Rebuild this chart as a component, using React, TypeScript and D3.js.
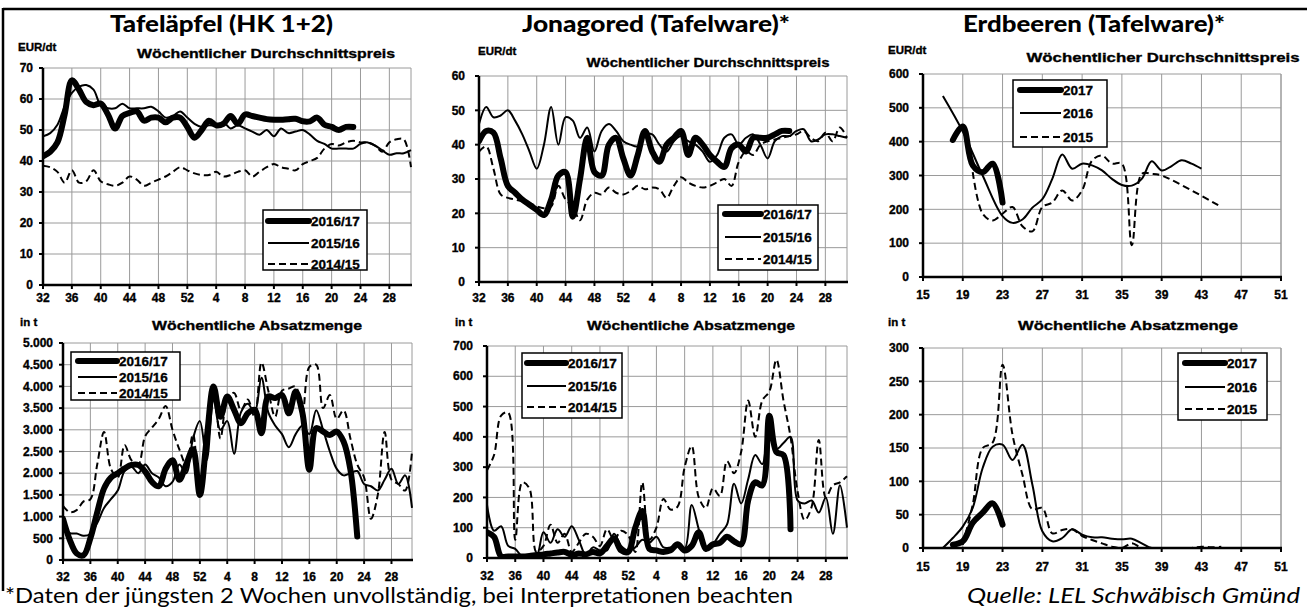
import React from 'react';
import * as d3 from 'd3';

const W = 1307;
const H = 610;

// Achsenbeschriftungen
const seasonWeekLabels = ['32', '36', '40', '44', '48', '52', '4', '8', '12', '16', '20', '24', '28'];
const berryWeekTicks = [15, 19, 23, 27, 31, 35, 39, 43, 47, 51];
const appleYears = ['2016/17', '2015/16', '2014/15'];
const berryYears = ['2017', '2016', '2015'];

// Tafeläpfel, Preis EUR/dt, Index 0 = KW 32
const apfelPreis1617 = [41.5, 43, 46, 55, 66, 63, 59, 58, 58.5, 55, 50.5, 54.5, 55.5, 56, 53, 54, 54, 52.5, 54, 54, 51, 47.5, 50, 53, 51.5, 52, 54.5, 52, 55, 54.5, 54, 53.5, 53.3, 53.3, 53.5, 53.6, 52.8, 52.8, 54, 51.7, 51, 50, 51, 51];
const apfelPreis1516 = [48, 49, 51.7, 57.6, 62, 64, 64.5, 63, 58, 57, 57, 58.5, 57, 57, 57, 57.5, 56, 54, 54.5, 56, 54, 52, 51, 51.5, 51.5, 52.5, 50.5, 51.5, 50.5, 49.5, 48.5, 50, 48, 50.5, 49, 49.5, 50, 48.5, 46.5, 45.5, 44, 44, 44, 44, 45.5, 46, 45, 43.5, 42, 42.5, 42.5, 43.5];
const apfelPreis1415 = [38.5, 38, 36.5, 33, 37, 33, 33.5, 37, 33.5, 32.5, 32, 33, 35, 34, 32, 33, 34, 35, 36.5, 38, 37, 36, 35.5, 35.5, 36.5, 35, 35.5, 36.5, 37, 35, 36.5, 38, 39, 38, 37.5, 37, 39, 40, 41, 44, 45.5, 45, 46, 46.5, 46, 46, 45, 43, 46, 47, 47, 38];

// Tafeläpfel, Absatzmenge in t
const apfelMenge1617 = [950, 460, 150, 110, 500, 1100, 1650, 1900, 2000, 2110, 2190, 2190, 2040, 1800, 1700, 2100, 2300, 1850, 2200, 2550, 1500, 2800, 4000, 3300, 3770, 3460, 3150, 3380, 3460, 2920, 3770, 3730, 3800, 3380, 3880, 3380, 2080, 3040, 2960, 2880, 2960, 2730, 2080, 540];
const apfelMenge1516 = [850, 620, 610, 560, 600, 850, 1200, 1400, 1600, 2050, 2150, 2000, 2200, 2000, 1900, 1700, 1800, 2200, 2000, 2800, 3200, 2300, 3700, 3000, 3200, 2450, 3400, 3600, 3400, 4200, 3400, 3100, 2900, 2600, 2900, 3100, 2900, 3450, 3000, 2500, 2100, 1950, 2000, 2050, 1750, 1700, 1600, 1850, 2100, 1750, 1950, 1200];
const apfelMenge1415 = [1250, 1100, 1150, 1350, 1400, 2200, 2950, 2100, 1900, 2650, 2300, 2200, 2850, 3050, 3250, 3550, 3000, 2550, 2200, 2900, 1450, 2600, 4000, 2800, 3700, 3850, 3450, 3700, 3300, 4550, 3900, 3300, 3900, 3950, 4000, 3400, 4450, 4500, 3500, 3800, 3250, 3450, 2800, 2200, 1900, 950, 1500, 2950, 1850, 1750, 1600, 2500];

// Jonagored, Preis EUR/dt
const jonaPreis1617 = [41, 44, 43.5, 36, 28, 26, 24, 22.5, 21, 19.5, 24, 31, 32, 19, 30, 42, 32, 31, 40, 42, 36, 31, 37, 44, 38, 35, 40, 42, 44, 37, 42, 40, 37, 35, 33.5, 39, 40, 38, 42, 42, 42, 43, 44, 44];
const jonaPreis1516 = [46, 51, 48, 48.5, 50, 47, 43, 38, 33, 40, 51, 40, 48, 47, 42, 45, 38, 44, 46, 44, 41, 40, 39.5, 43, 43, 40, 38, 41, 42.5, 41, 40, 38, 35, 37, 42, 43, 40, 42, 43, 40, 36, 41, 42.5, 42.5, 44, 44.5, 41, 41.5, 43, 43, 42.5, 42];
const jonaPreis1415 = [38, 39.5, 33, 25.5, 24.5, 24, 23.5, 23, 22, 21.5, 22, 28, 24, 22, 18, 24, 26, 25.5, 27.5, 26, 25.5, 26.5, 28, 27, 27.5, 27, 24.5, 28, 30.5, 29, 28, 27.5, 28, 29, 30, 28, 35, 38, 37, 40, 41, 41.5, 42, 42.5, 43, 44, 42, 41, 43.5, 41, 45, 42];

// Jonagored, Absatzmenge in t
const jonaMenge1617 = [85, 70, 5, 5, 5, 5, 7, 10, 12, 15, 18, 20, 10, 15, 12, 20, 15, 40, 65, 25, 20, 100, 155, 30, 25, 20, 25, 45, 25, 40, 85, 30, 45, 50, 70, 55, 45, 190, 250, 240, 470, 350, 340, 95];
const jonaMenge1516 = [175, 90, 105, 40, 30, 5, 5, 5, 85, 50, 95, 70, 105, 60, 10, 35, 25, 25, 80, 40, 25, 35, 60, 50, 70, 35, 35, 40, 30, 175, 95, 25, 45, 80, 110, 245, 180, 260, 340, 310, 470, 360, 380, 400, 190, 180, 190, 150, 200, 80, 240, 100];
const jonaMenge1415 = [290, 340, 470, 480, 60, 250, 230, 20, 40, 110, 50, 80, 20, 50, 80, 70, 40, 95, 60, 90, 75, 20, 250, 60, 100, 195, 160, 170, 300, 370, 200, 165, 230, 205, 320, 280, 350, 520, 400, 520, 550, 655, 520, 400, 220, 125, 170, 390, 200, 240, 250, 270];

// Erdbeeren, Preis EUR/dt (Kalenderwoche / Wert)
const erdbeerPreisKW2017 = [18, 19, 20, 21, 22, 23];
const erdbeerPreis2017 = [405, 445, 330, 310, 335, 220];
const erdbeerPreisKW2016 = [17, 19, 21, 23, 24, 25, 26, 27, 28, 29, 30, 31, 32, 33, 34, 35, 36, 37, 38, 39, 40, 41, 42, 43];
const erdbeerPreis2016 = [535, 430, 300, 180, 160, 170, 205, 230, 290, 362, 320, 335, 330, 315, 290, 272, 270, 290, 342, 315, 328, 345, 335, 320];
const erdbeerPreisKW2015 = [20, 21, 22, 23, 24, 25, 26, 27, 28, 29, 30, 31, 32, 33, 34, 35, 36, 37, 38, 39, 45];
const erdbeerPreis2015 = [310, 187, 167, 187, 207, 150, 135, 207, 220, 256, 226, 256, 344, 359, 335, 335, 94, 305, 305, 300, 207];

// Erdbeeren, Absatzmenge in t
const erdbeerMengeKW2017 = [18, 19, 20, 21, 22, 23];
const erdbeerMenge2017 = [5, 10, 38, 53, 67, 35];
const erdbeerMengeKW2016 = [17, 18, 19, 20, 21, 22, 23, 24, 25, 26, 27, 28, 29, 30, 31, 32, 33, 34, 35, 36, 37, 38, 39, 40, 41, 42, 43];
const erdbeerMenge2016 = [0, 15, 32, 60, 120, 152, 155, 132, 155, 95, 25, 10, 15, 28, 20, 16, 16, 14, 13, 14, 7, 0, 0, 0, 0, 0, 0];
const erdbeerMengeKW2015 = [19, 20, 21, 22, 23, 24, 25, 26, 27, 28, 29, 30, 31, 32, 33, 34, 35, 36, 37, 38, 39, 40, 41, 42, 43, 44, 45];
const erdbeerMenge2015 = [5, 65, 150, 158, 275, 170, 110, 58, 60, 22, 27, 28, 18, 12, 7, 2, 0, 7, 0, 0, 0, 0, 0, 0, 2, 1, 2];

const titleFont = 'Lato, "Open Sans", sans-serif';
const axisFont = '"Liberation Sans", Arial, sans-serif';
const gridColor = '#9a9a9a';

const de = d3.formatLocale({decimal: ',', thousands: '.', grouping: [3], currency: ['', ' €']});
const fmtDe = de.format(',');

const seriesStyle = [
    {width: 6, dash: undefined as string | undefined, cap: 'round'},
    {width: 2, dash: undefined as string | undefined, cap: 'butt'},
    {width: 2, dash: '7,4', cap: 'butt'},
];

// fette Arial-Schrift etwas kräftiger wie im Original
const boldText = {fontFamily: axisFont, fontWeight: 700, stroke: '#000', strokeWidth: 0.35} as const;

const seasonIdx = (arr: number[]) => arr.map((_, i) => i);

const Panel = ({id, box, xDomain, xTicks, xTickLabels, yMax, yStep, yGap, xLabelDy, series, names, legend, unit, subtitle}) => {
    const x = d3.scaleLinear().domain(xDomain).range([box.left, box.right]);
    const y = d3.scaleLinear().domain([0, yMax]).range([box.bottom, box.top]);
    const yTicks = d3.range(0, yMax + yStep / 2, yStep);
    const line = d3.line<[number, number]>()
        .x(d => x(d[0]))
        .y(d => y(d[1]))
        .curve(d3.curveCatmullRom);

    return (
        <g>
            <defs>
                <clipPath id={`clip-${id}`}>
                    <rect x={box.left} y={box.top - 1} width={box.right - box.left + 1} height={box.bottom - box.top + 1}/>
                </clipPath>
            </defs>
            {/* Gitter */}
            {yTicks.slice(1).map(t => (
                <line key={'h' + t} x1={box.left} x2={box.right} y1={y(t)} y2={y(t)} stroke={gridColor} strokeWidth={1}/>
            ))}
            {xTicks.slice(1).map(t => (
                <line key={'v' + t} x1={x(t)} x2={x(t)} y1={box.top} y2={box.bottom} stroke={gridColor} strokeWidth={1}/>
            ))}
            <line x1={box.right} x2={box.right} y1={box.top} y2={box.bottom} stroke={gridColor}/>

            {/* Linien, ältestes Jahr zuerst */}
            <g clipPath={`url(#clip-${id})`}>
                {[2, 1, 0].map(k => {
                    const s = series[k];
                    const pts = s.ys.map((v, i) => [s.xs[i], v] as [number, number]);
                    return (
                        <path key={k} d={line(pts) || ''} fill="none" stroke="#000"
                              strokeWidth={seriesStyle[k].width} strokeDasharray={seriesStyle[k].dash}
                              strokeLinecap={seriesStyle[k].cap as any} strokeLinejoin="round"/>
                    );
                })}
            </g>

            {/* Achsen */}
            <line x1={box.left} x2={box.left} y1={box.top} y2={box.bottom + 1} stroke="#000" strokeWidth={2.5}/>
            <line x1={box.left} x2={box.right + 1} y1={box.bottom} y2={box.bottom} stroke="#000" strokeWidth={2.5}/>
            {yTicks.map(t => (
                <g key={'yt' + t}>
                    <line x1={box.left - 4} x2={box.left} y1={y(t)} y2={y(t)} stroke="#000" strokeWidth={2}/>
                    <text x={box.left - yGap} y={y(t)} dy="0.35em" textAnchor="end" {...boldText}
                          fontSize={12}>{fmtDe(t)}</text>
                </g>
            ))}
            {xTicks.map((t, i) => (
                <g key={'xt' + t}>
                    <line x1={x(t)} x2={x(t)} y1={box.bottom} y2={box.bottom + 4} stroke="#000" strokeWidth={2}/>
                    <text x={x(t)} y={box.bottom + xLabelDy} dy="0.35em" textAnchor="middle" {...boldText}
                          fontSize={12}>{xTickLabels[i]}</text>
                </g>
            ))}

            {/* Einheiten und Untertitel */}
            <text x={unit.x} y={unit.y} dy="0.35em" {...boldText} fontSize={11.5}>{unit.text}</text>
            <text x={subtitle.cx - subtitle.w / 2} y={subtitle.y} dy="0.35em" textLength={subtitle.w}
                  lengthAdjust="spacingAndGlyphs" {...boldText} fontSize={13}>{subtitle.text}</text>

            {/* Legende */}
            <rect x={legend.x} y={legend.y} width={legend.w} height={legend.h} fill="#fff" stroke="#000" strokeWidth={1.5}/>
            {names.map((n, k) => (
                <g key={n}>
                    <line x1={legend.x1} x2={legend.x2} y1={legend.ys[k]} y2={legend.ys[k]} stroke="#000"
                          strokeWidth={seriesStyle[k].width} strokeDasharray={seriesStyle[k].dash}
                          strokeLinecap={seriesStyle[k].cap as any}/>
                    <text x={legend.tx} y={legend.ys[k]} dy="0.35em" {...boldText} fontSize={13.5}>{n}</text>
                </g>
            ))}
        </g>
    );
};

const seasonTicks = seasonWeekLabels.map((_, i) => i * 4);

const App = () => {
    const appleSeries = (a: number[], b: number[], c: number[]) => [
        {xs: seasonIdx(a), ys: a},
        {xs: seasonIdx(b), ys: b},
        {xs: seasonIdx(c), ys: c},
    ];

    return (
        <svg width={W} height={H} style={{position: 'absolute', left: 0, top: 0, background: '#fff'}}>
            <rect x={0} y={0} width={W} height={H} fill="#fff"/>
            {/* Rahmen */}
            <line x1={3} x2={W} y1={9} y2={9} stroke="#000" strokeWidth={2.5}/>
            <line x1={3} x2={3} y1={8} y2={591} stroke="#000" strokeWidth={2.5}/>

            {/* Titel */}
            <text x={110} y={32} textLength={223} lengthAdjust="spacingAndGlyphs" fontFamily={titleFont}
                  fontWeight={900} fontSize={23}>Tafeläpfel (HK 1+2)</text>
            <text x={522} y={32} textLength={268} lengthAdjust="spacingAndGlyphs" fontFamily={titleFont}
                  fontWeight={900} fontSize={23}>Jonagored (Tafelware)*</text>
            <text x={963} y={32} textLength={262} lengthAdjust="spacingAndGlyphs" fontFamily={titleFont}
                  fontWeight={900} fontSize={23}>Erdbeeren (Tafelware)*</text>

            <Panel id="p1" box={{left: 43, right: 411, top: 68, bottom: 285}} xDomain={[0, 51]}
                   xTicks={seasonTicks} xTickLabels={seasonWeekLabels} yMax={70} yStep={10} yGap={10} xLabelDy={13}
                   series={appleSeries(apfelPreis1617, apfelPreis1516, apfelPreis1415)} names={appleYears}
                   unit={{x: 18, y: 47, text: 'EUR/dt'}}
                   subtitle={{cx: 266, y: 53, w: 258, text: 'Wöchentlicher Durchschnittspreis'}}
                   legend={{x: 263, y: 210, w: 104, h: 60, x1: 268, x2: 309, tx: 311, ys: [221, 243, 264]}}/>

            <Panel id="p2" box={{left: 63, right: 412, top: 343, bottom: 560}} xDomain={[0, 51]}
                   xTicks={seasonTicks} xTickLabels={seasonWeekLabels} yMax={5000} yStep={500} yGap={10} xLabelDy={17}
                   series={appleSeries(apfelMenge1617, apfelMenge1516, apfelMenge1415)} names={appleYears}
                   unit={{x: 20, y: 322, text: 'in t'}}
                   subtitle={{cx: 257, y: 325, w: 210, text: 'Wöchentliche Absatzmenge'}}
                   legend={{x: 71, y: 352, w: 109, h: 48, x1: 78, x2: 117, tx: 119, ys: [361, 377, 393]}}/>

            <Panel id="p3" box={{left: 479, right: 847, top: 76, bottom: 282}} xDomain={[0, 51]}
                   xTicks={seasonTicks} xTickLabels={seasonWeekLabels} yMax={60} yStep={10} yGap={14} xLabelDy={16}
                   series={appleSeries(jonaPreis1617, jonaPreis1516, jonaPreis1415)} names={appleYears}
                   unit={{x: 478, y: 51, text: 'EUR/dt'}}
                   subtitle={{cx: 708, y: 62, w: 243, text: 'Wöchentlicher Durchschnittspreis'}}
                   legend={{x: 718, y: 205, w: 100, h: 65, x1: 725, x2: 761, tx: 763, ys: [214, 237, 259]}}/>

            <Panel id="p4" box={{left: 487, right: 847, top: 346, bottom: 558}} xDomain={[0, 51]}
                   xTicks={seasonTicks} xTickLabels={seasonWeekLabels} yMax={700} yStep={100} yGap={14} xLabelDy={18}
                   series={appleSeries(jonaMenge1617, jonaMenge1516, jonaMenge1415)} names={appleYears}
                   unit={{x: 455, y: 322, text: 'in t'}}
                   subtitle={{cx: 691, y: 325, w: 208, text: 'Wöchentliche Absatzmenge'}}
                   legend={{x: 522, y: 353, w: 100, h: 65, x1: 527, x2: 566, tx: 568, ys: [363, 386, 407]}}/>

            <Panel id="p5" box={{left: 923, right: 1281, top: 74, bottom: 277}} xDomain={[15, 51]}
                   xTicks={berryWeekTicks} xTickLabels={berryWeekTicks.map(String)} yMax={600} yStep={100} yGap={14}
                   xLabelDy={18}
                   series={[
                       {xs: erdbeerPreisKW2017, ys: erdbeerPreis2017},
                       {xs: erdbeerPreisKW2016, ys: erdbeerPreis2016},
                       {xs: erdbeerPreisKW2015, ys: erdbeerPreis2015},
                   ]} names={berryYears}
                   unit={{x: 888, y: 50, text: 'EUR/dt'}}
                   subtitle={{cx: 1163, y: 57, w: 273, text: 'Wöchentlicher Durchschnittspreis'}}
                   legend={{x: 1013, y: 80, w: 94, h: 67, x1: 1020, x2: 1061, tx: 1063, ys: [90, 113, 137]}}/>

            <Panel id="p6" box={{left: 923, right: 1281, top: 348, bottom: 548}} xDomain={[15, 51]}
                   xTicks={berryWeekTicks} xTickLabels={berryWeekTicks.map(String)} yMax={300} yStep={50} yGap={14}
                   xLabelDy={19}
                   series={[
                       {xs: erdbeerMengeKW2017, ys: erdbeerMenge2017},
                       {xs: erdbeerMengeKW2016, ys: erdbeerMenge2016},
                       {xs: erdbeerMengeKW2015, ys: erdbeerMenge2015},
                   ]} names={berryYears}
                   unit={{x: 888, y: 322, text: 'in t'}}
                   subtitle={{cx: 1128, y: 325, w: 220, text: 'Wöchentliche Absatzmenge'}}
                   legend={{x: 1178, y: 353, w: 89, h: 67, x1: 1185, x2: 1225, tx: 1227, ys: [363, 387, 409]}}/>

            {/* Fußzeile */}
            <text x={5} y={603} textLength={788} lengthAdjust="spacingAndGlyphs" fontFamily={titleFont}
                  fontSize={21}>*Daten der jüngsten 2 Wochen unvollständig, bei Interpretationen beachten</text>
            <text x={1300} y={603} textAnchor="end" textLength={333} lengthAdjust="spacingAndGlyphs"
                  fontFamily={titleFont} fontStyle="italic" fontSize={21}>Quelle: LEL Schwäbisch Gmünd</text>
        </svg>
    );
};

export default App;
